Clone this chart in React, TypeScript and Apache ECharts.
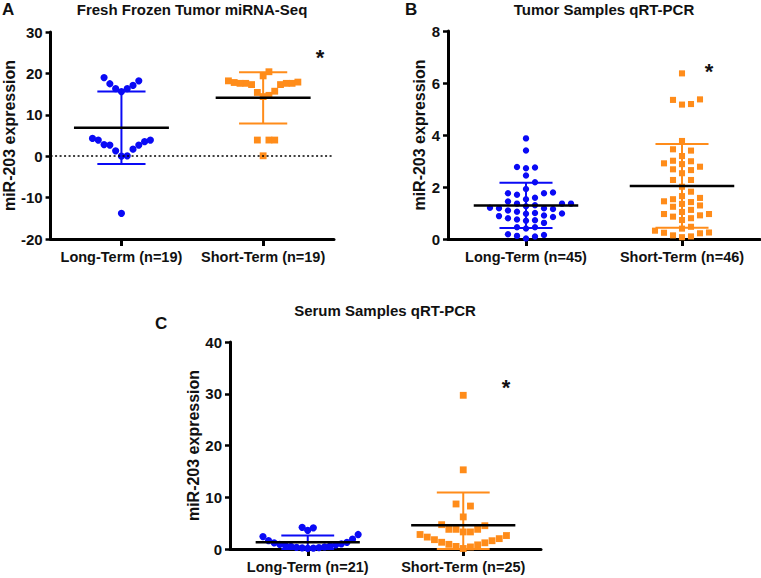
import React, { useEffect, useRef } from "react";
import * as echarts from "echarts";

// ---------- data ----------
const CATS_A = ["Long-Term (n=19)", "Short-Term (n=19)"];
const CATS_B = ["Long-Term (n=45)", "Short-Term (n=46)"];
const CATS_C = ["Long-Term (n=21)", "Short-Term (n=25)"];

const TITLES = ["Fresh Frozen Tumor miRNA-Seq", "Tumor Samples qRT-PCR", "Serum Samples qRT-PCR"];
const LETTERS = ["A", "B", "C"];
const Y_NAME = "miR-203 expression";

const A_LONG = [18.2, 17.1, 16.3, 19.0, 15.6, 16.3, 17.5, 2.7, 1.7, 3.9, 0.1, 3.5, 0.0, 3.9, 1.3, 4.3, 2.7, 2.8, -13.8];
const A_SHORT = [20.4, 17.6, 17.8, 17.3, 17.9, 15.4, 17.6, 14.4, 17.6, 14.7, 17.6, 15.7, 18.2, 17.3, 19.4, 3.9, 3.9, 3.9, 0.1];
const A_MEAN = [6.85, 14.1];
const A_SD = [8.75, 6.2];

const B_LONG = [3.87, 3.4, 2.77, 2.75, 2.72, 2.44, 2.18, 1.92, 1.79, 1.76, 1.76, 1.7, 1.59, 1.53, 1.44, 1.36, 1.36, 1.36, 1.3, 1.26, 1.2, 1.18, 1.18, 1.15, 1.1, 1.05, 1.0, 0.98, 0.97, 0.9, 0.88, 0.85, 0.8, 0.75, 0.72, 0.7, 0.62, 0.45, 0.45, 0.4, 0.18, 0.15, 0.12, 0.1, 0.02];
const B_SHORT = [6.37, 5.37, 5.35, 5.19, 5.17, 3.77, 3.45, 3.4, 3.19, 3.01, 2.99, 2.91, 2.88, 2.78, 2.68, 2.65, 2.53, 2.27, 2.27, 2.01, 1.82, 1.65, 1.58, 1.53, 1.45, 1.42, 1.35, 1.29, 1.24, 1.12, 1.04, 0.96, 0.96, 0.91, 0.86, 0.8, 0.73, 0.47, 0.4, 0.32, 0.25, 0.24, 0.22, 0.14, 0.1, 0.07];
const B_MEAN = [1.29, 2.04];
const B_SD = [0.87, 1.61];

const C_LONG = [4.2, 3.6, 2.8, 4.1, 2.4, 1.9, 1.6, 1.2, 0.9, 0.7, 0.5, 0.3, 0.2, 0.1, 0.15, 0.25, 0.4, 0.6, 0.8, 1.0, 1.3];
const C_SHORT = [29.7, 15.3, 8.7, 8.3, 6.2, 4.5, 3.8, 3.3, 3.3, 3.8, 3.8, 4.7, 2.8, 2.3, 1.8, 1.3, 0.9, 0.5, 0.1, 0.4, 0.8, 1.2, 1.6, 2.0, 2.6];
const C_MEAN = [1.3, 4.6];
const C_SD = [1.3, 6.3];

// ---------- styles ----------
const FONT = "'Liberation Sans', Arial, Helvetica, sans-serif";
const BLUE = "#0a0af5";
const ORANGE = "#ff8c1a";

type Panel = {
  cats: string[];
  long: number[];
  short: number[];
  mean: number[];
  sd: number[];
  yMin: number;
  yMax: number;
  yInt: number;
  grid: { left: number; top: number; width: number; height: number };
  sym: number;
  steps: number[];
  collide: number;
  nameGap: number;
  zeroLine: boolean;
};

const PANELS: Panel[] = [
  {
    cats: CATS_A, long: A_LONG, short: A_SHORT, mean: A_MEAN, sd: A_SD,
    yMin: -20, yMax: 30, yInt: 10,
    grid: { left: 50, top: 32, width: 284, height: 207 },
    sym: 7.2, steps: [5.8, 5.8], collide: 20, nameGap: 30, zeroLine: true,
  },
  {
    cats: CATS_B, long: B_LONG, short: B_SHORT, mean: B_MEAN, sd: B_SD,
    yMin: 0, yMax: 8, yInt: 2,
    grid: { left: 448, top: 31, width: 312, height: 208 },
    sym: 6.4, steps: [9, 9], collide: 7, nameGap: 17, zeroLine: false,
  },
  {
    cats: CATS_C, long: C_LONG, short: C_SHORT, mean: C_MEAN, sd: C_SD,
    yMin: 0, yMax: 40, yInt: 10,
    grid: { left: 230, top: 342, width: 311, height: 207 },
    sym: 7.2, steps: [5.6, 7.2], collide: 15, nameGap: 29, zeroLine: false,
  },
];

// Prism-like column scatter: sort ascending, give each point the slot nearest the
// centre (0, +1, -1, +2, ...) whose occupants are at least `collide` px away vertically.
function swarm(values: number[], cat: number, p: Panel): number[][] {
  const pxY = p.grid.height / (p.yMax - p.yMin);
  const unitX = 2 / p.grid.width;
  const step = p.steps[cat];
  const sorted = [...values].sort((a, b) => a - b);
  const slots: Map<number, number[]> = new Map();
  const out: number[][] = [];
  for (const v of sorted) {
    const py = (v - p.yMin) * pxY;
    let k = 0;
    for (let t = 0; t < 200; t++) {
      const s = t === 0 ? 0 : Math.ceil(t / 2) * (t % 2 === 1 ? 1 : -1);
      const occ = slots.get(s) || [];
      if (occ.every((q) => Math.abs(q - py) >= p.collide)) {
        k = s;
        break;
      }
    }
    if (!slots.has(k)) slots.set(k, []);
    slots.get(k)!.push(py);
    out.push([cat + k * step * unitX, v]);
  }
  return out;
}

export default function App() {
  const ref = useRef<HTMLDivElement>(null);

  useEffect(() => {
    if (!ref.current) return;
    const chart = echarts.init(ref.current, undefined, { renderer: "svg" });

    const grids: any[] = [];
    const xAxes: any[] = [];
    const yAxes: any[] = [];
    const series: any[] = [];

    PANELS.forEach((p, gi) => {
      grids.push({ ...p.grid, containLabel: false });
      // visible category axis (labels + ticks)
      xAxes.push({
        type: "category",
        gridIndex: gi,
        data: p.cats,
        boundaryGap: true,
        axisLine: { show: true, onZero: false, lineStyle: { color: "#000", width: 3 } },
        axisTick: { show: true, alignWithLabel: true, interval: 0, length: 7, lineStyle: { color: "#000", width: 3 } },
        axisLabel: {
          show: true,
          interval: 0,
          hideOverlap: false,
          color: "#111",
          fontFamily: FONT,
          fontWeight: "bold",
          fontSize: 14.5,
          margin: 10,
        },
        splitLine: { show: false },
      });
      // hidden value axis for point placement
      xAxes.push({
        type: "value",
        gridIndex: gi,
        min: -0.5,
        max: 1.5,
        show: false,
        axisLine: { onZero: false },
        splitLine: { show: false },
      });
      yAxes.push({
        type: "value",
        gridIndex: gi,
        min: p.yMin,
        max: p.yMax,
        interval: p.yInt,
        name: Y_NAME,
        nameLocation: "middle",
        nameRotate: 90,
        nameGap: p.nameGap,
        nameTextStyle: { color: "#111", fontFamily: FONT, fontWeight: "bold", fontSize: 16 },
        axisLine: { show: true, onZero: false, lineStyle: { color: "#000", width: 3 } },
        axisTick: { show: true, length: 5, lineStyle: { color: "#000", width: 2.5 } },
        axisLabel: { color: "#111", fontFamily: FONT, fontWeight: "bold", fontSize: 15, margin: 8 },
        splitLine: { show: false },
      });
      const xi = gi * 2 + 1;
      if (p.zeroLine) {
        series.push({
          type: "line",
          xAxisIndex: xi,
          yAxisIndex: gi,
          data: [],
          z: 1,
          markLine: {
            silent: true,
            symbol: "none",
            label: { show: false },
            lineStyle: { color: "#000", type: [2, 2.5], width: 1.5 },
            data: [{ yAxis: 0 }],
          },
        });
      }
      series.push({
        type: "scatter",
        name: p.cats[0],
        xAxisIndex: xi,
        yAxisIndex: gi,
        symbol: "circle",
        symbolSize: p.sym,
        itemStyle: { color: BLUE, opacity: 1 },
        data: swarm(p.long, 0, p),
        z: 2,
      });
      series.push({
        type: "scatter",
        name: p.cats[1],
        xAxisIndex: xi,
        yAxisIndex: gi,
        symbol: "rect",
        symbolSize: p.sym * 0.95,
        itemStyle: { color: ORANGE, opacity: 1 },
        data: swarm(p.short, 1, p),
        z: 2,
      });
      const colors = [BLUE, ORANGE];
      series.push({
        type: "custom",
        xAxisIndex: xi,
        yAxisIndex: gi,
        z: 3,
        data: p.mean.map((m, i) => [i, m, p.sd[i]]),
        encode: { x: 0, y: 1 },
        renderItem: (params: any, api: any) => {
          const i = api.value(0);
          const m = api.value(1);
          const s = api.value(2);
          const c = api.coord([i, m]);
          const hi = api.coord([i, Math.min(m + s, p.yMax)]);
          const lo = api.coord([i, Math.max(m - s, p.yMin)]);
          const hw = api.size([0.335, 0])[0];
          const cw = api.size([0.17, 0])[0];
          const col = colors[i];
          return {
            type: "group",
            children: [
              { type: "line", shape: { x1: c[0], y1: hi[1], x2: c[0], y2: lo[1] }, style: { stroke: col, lineWidth: 2 } },
              { type: "line", shape: { x1: c[0] - cw, y1: hi[1], x2: c[0] + cw, y2: hi[1] }, style: { stroke: col, lineWidth: 2 } },
              { type: "line", shape: { x1: c[0] - cw, y1: lo[1], x2: c[0] + cw, y2: lo[1] }, style: { stroke: col, lineWidth: 2 } },
              { type: "line", shape: { x1: c[0] - hw, y1: c[1], x2: c[0] + hw, y2: c[1] }, style: { stroke: "#000", lineWidth: 2.5 } },
            ],
          };
        },
      });
    });

    const txt = (text: string, x: number, y: number, size: number, align = "center") => ({
      type: "text",
      x,
      y,
      silent: true,
      style: {
        text,
        fill: "#111",
        font: `bold ${size}px ${FONT}`,
        align,
        verticalAlign: "middle",
        textAlign: align,
        textVerticalAlign: "middle",
      },
    });

    const graphic = [
      txt(TITLES[0], 192, 9, 15),
      txt(TITLES[1], 604, 9, 15),
      txt(TITLES[2], 385, 310, 15),
      txt(LETTERS[0], 2, 9, 17, "left"),
      txt(LETTERS[1], 405, 9, 17, "left"),
      txt(LETTERS[2], 155, 323, 17, "left"),
      txt("*", 320, 57, 22),
      txt("*", 709, 71, 22),
      txt("*", 506, 387, 22),
    ];

    chart.setOption({
      animation: false,
      backgroundColor: "#fff",
      grid: grids,
      xAxis: xAxes,
      yAxis: yAxes,
      series,
      graphic,
    });
    return () => chart.dispose();
  }, []);

  return <div ref={ref} style={{ position: "fixed", left: 0, top: 0, width: 761, height: 578, background: "#fff" }} />;
}
